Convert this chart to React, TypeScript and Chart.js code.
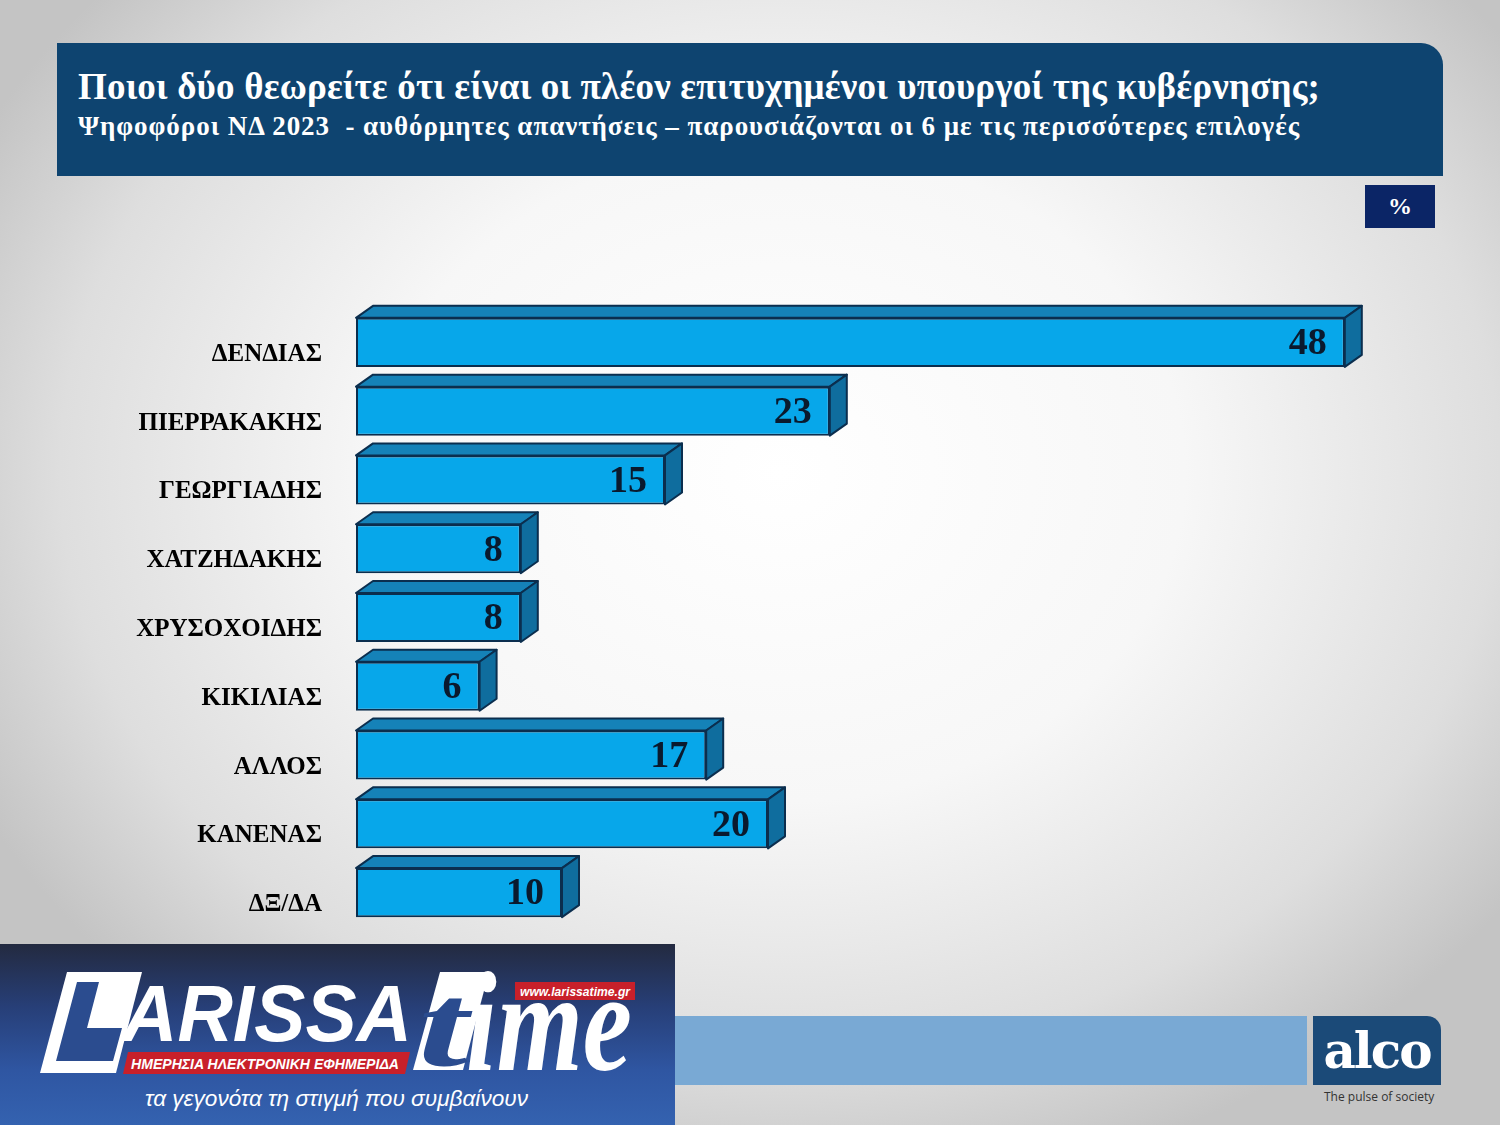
import React, { useEffect, useRef } from "react";
import { Chart, registerables } from "chart.js";

Chart.register(...registerables);

const categories = [
  "ΔΕΝΔΙΑΣ",
  "ΠΙΕΡΡΑΚΑΚΗΣ",
  "ΓΕΩΡΓΙΑΔΗΣ",
  "ΧΑΤΖΗΔΑΚΗΣ",
  "ΧΡΥΣΟΧΟΙΔΗΣ",
  "ΚΙΚΙΛΙΑΣ",
  "ΑΛΛΟΣ",
  "ΚΑΝΕΝΑΣ",
  "ΔΞ/ΔΑ",
];
const values = [48, 23, 15, 8, 8, 6, 17, 20, 10];

const TITLE = "Ποιοι δύο θεωρείτε ότι είναι οι πλέον επιτυχημένοι υπουργοί της κυβέρνησης;";
const SUBTITLE =
  "Ψηφοφόροι ΝΔ 2023  - αυθόρμητες απαντήσεις – παρουσιάζονται οι 6 με τις περισσότερες επιλογές";

const FRONT = "#07a7ea";
const TOPC = "#1582b8";
const SIDE = "#0f6d9e";
const EDGE = "#0b2e4e";

const bar3d = {
  id: "bar3d",
  afterDatasetsDraw(chart: any) {
    const ctx = chart.ctx;
    const meta = chart.getDatasetMeta(0);
    const dx = 17;
    const dy = 12;
    meta.data.forEach((bar: any, i: number) => {
      const { x, y, base, height } = bar.getProps(["x", "y", "base", "height"], true);
      const top = y - height / 2;
      const bottom = y + height / 2;
      ctx.save();
      ctx.lineWidth = 2;
      ctx.strokeStyle = EDGE;
      ctx.lineJoin = "round";
      ctx.beginPath();
      ctx.moveTo(base, top);
      ctx.lineTo(base + dx, top - dy);
      ctx.lineTo(x + dx, top - dy);
      ctx.lineTo(x, top);
      ctx.closePath();
      ctx.fillStyle = TOPC;
      ctx.fill();
      ctx.stroke();
      ctx.beginPath();
      ctx.moveTo(x, top);
      ctx.lineTo(x + dx, top - dy);
      ctx.lineTo(x + dx, bottom - dy);
      ctx.lineTo(x, bottom);
      ctx.closePath();
      ctx.fillStyle = SIDE;
      ctx.fill();
      ctx.stroke();
      ctx.font = "bold 38px 'Liberation Serif'";
      ctx.fillStyle = "#0a1a2e";
      ctx.textAlign = "right";
      ctx.textBaseline = "middle";
      ctx.fillText(String(values[i]), x - 18, y + 2);
      ctx.restore();
    });
  },
};

export default function App() {
  const ref = useRef<HTMLCanvasElement>(null);
  useEffect(() => {
    document.body.style.margin = "0";
    const chart = new Chart(ref.current!, {
      type: "bar",
      data: {
        labels: categories,
        datasets: [
          {
            data: values,
            backgroundColor: FRONT,
            borderColor: EDGE,
            borderWidth: 2,
            borderSkipped: false,
            barPercentage: 0.713,
            categoryPercentage: 1,
          },
        ],
      },
      options: {
        indexAxis: "y",
        animation: false,
        responsive: false,
        devicePixelRatio: 1,
        layout: { padding: { top: 28, bottom: 33, right: 14, left: 0 } },
        plugins: { legend: { display: false }, tooltip: { enabled: false } },
        scales: {
          x: { display: false, min: 0, max: 50 },
          y: {
            grid: { display: false, drawTicks: false },
            border: { display: false },
            ticks: {
              padding: 34,
              labelOffset: 12,
              color: "#000",
              font: { family: "'Liberation Serif'", weight: "bold", size: 25 },
            },
            afterFit: (s: any) => {
              s.width = 356;
              s.paddingTop = 0;
              s.paddingBottom = 0;
            },
          },
        },
      },
      plugins: [bar3d],
    } as any);
    return () => chart.destroy();
  }, []);

  const abs = (o: React.CSSProperties): React.CSSProperties => ({ position: "absolute", ...o });

  return (
    <div
      style={{
        position: "absolute",
        left: 0,
        top: 0,
        width: 1500,
        height: 1125,
        overflow: "hidden",
        background:
          "radial-gradient(ellipse 60% 65% at 52% 42%, #ffffff 0%, #f7f7f7 45%, #dedede 80%, #c4c4c4 100%)",
        fontFamily: "'Liberation Serif', serif",
      }}
    >
      {/* header */}
      <div
        style={abs({
          left: 57,
          top: 43,
          width: 1386,
          height: 133,
          background: "#0e4470",
          borderTopRightRadius: 22,
        })}
      />
      <div
        style={abs({
          left: 78,
          top: 65,
          color: "#fff",
          fontWeight: "bold",
          fontSize: 37,
          letterSpacing: 0.2,
          whiteSpace: "nowrap",
        })}
      >
        {TITLE}
      </div>
      <div
        style={abs({
          left: 78,
          top: 111,
          color: "#fff",
          fontWeight: "bold",
          fontSize: 27,
          letterSpacing: 0.95,
          whiteSpace: "pre",
        })}
      >
        {SUBTITLE}
      </div>
      <div
        style={abs({
          left: 1365,
          top: 185,
          width: 70,
          height: 43,
          background: "#0b2566",
          color: "#fff",
          fontWeight: "bold",
          fontSize: 24,
          display: "flex",
          alignItems: "center",
          justifyContent: "center",
        })}
      >
        %
      </div>

      <canvas ref={ref} width={1400} height={680} style={abs({ left: 0, top: 280 })} />

      {/* footer band */}
      <div style={abs({ left: 675, top: 1016, width: 632, height: 69, background: "#79a9d4" })} />
      <div
        style={abs({
          left: 1313,
          top: 1016,
          width: 128,
          height: 69,
          background: "#1b4a78",
          borderTopRightRadius: 14,
          color: "#fff",
          fontFamily: "'DejaVu Serif', serif",
          fontWeight: "bold",
          fontSize: 50,
          display: "flex",
          alignItems: "center",
          justifyContent: "center",
          letterSpacing: -2,
        })}
      >
        alco
      </div>
      <div
        style={abs({
          left: 1324,
          top: 1088,
          fontFamily: "'Open Sans', sans-serif",
          fontSize: 12,
          color: "#333",
        })}
      >
        The pulse of society
      </div>

      {/* larissa time logo */}
      <svg
        width={675}
        height={181}
        viewBox="0 944 675 181"
        style={abs({ left: 0, top: 944 })}
      >
        <defs>
          <linearGradient id="lt" x1="0" y1="0" x2="0" y2="1">
            <stop offset="0" stopColor="#232a40" />
            <stop offset="0.35" stopColor="#273f78" />
            <stop offset="0.7" stopColor="#2f56a2" />
            <stop offset="1" stopColor="#3462b0" />
          </linearGradient>
        </defs>
        <rect x={0} y={944} width={675} height={181} fill="url(#lt)" />
        {/* L block */}
        <polygon points="67,972 142,972 116,1073 40,1073" fill="#fff" />
        <polygon
          points="77,982 99,982 87,1028 122,1028 113,1061 56,1061"
          fill="#2b4c8f"
        />
        {/* ARISSA */}
        <text
          x={122}
          y={1041}
          fill="#fff"
          fontFamily="'Liberation Sans', sans-serif"
          fontWeight="bold"
          fontStyle="italic"
          fontSize={80}
          textLength={290}
          lengthAdjust="spacingAndGlyphs"
        >
          ARISSA
        </text>
        {/* t block */}
        <polygon points="440,972 489,972 463,1070 413,1070" fill="#fff" />
        <text
          x={418}
          y={1066}
          fill="#2b4c8f"
          fontFamily="'Liberation Serif', serif"
          fontWeight="bold"
          fontStyle="italic"
          fontSize={118}
          textLength={50}
          lengthAdjust="spacingAndGlyphs"
        >
          t
        </text>
        <text
          x={466}
          y={1070}
          fill="#fff"
          fontFamily="'Liberation Serif', serif"
          fontWeight="bold"
          fontStyle="italic"
          fontSize={141}
          textLength={166}
          lengthAdjust="spacingAndGlyphs"
        >
          ime
        </text>
        {/* red labels */}
        <rect x={515} y={982} width={120} height={18} fill="#c8202a" />
        <text
          x={520}
          y={996}
          fill="#fff"
          fontFamily="'Liberation Sans', sans-serif"
          fontWeight="bold"
          fontStyle="italic"
          fontSize={13}
          textLength={110}
          lengthAdjust="spacingAndGlyphs"
        >
          www.larissatime.gr
        </text>
        <polygon points="128,1052 410,1052 405,1074 123,1074" fill="#c8202a" />
        <text
          x={131}
          y={1069}
          fill="#fff"
          fontFamily="'Liberation Sans', sans-serif"
          fontWeight="bold"
          fontStyle="italic"
          fontSize={15}
          textLength={268}
          lengthAdjust="spacingAndGlyphs"
        >
          ΗΜΕΡΗΣΙΑ ΗΛΕΚΤΡΟΝΙΚΗ ΕΦΗΜΕΡΙΔΑ
        </text>
        <text
          x={145}
          y={1106}
          fill="#fff"
          fontFamily="'Liberation Sans', sans-serif"
          fontStyle="italic"
          fontSize={22}
          textLength={383}
          lengthAdjust="spacingAndGlyphs"
        >
          τα γεγονότα τη στιγμή που συμβαίνουν
        </text>
      </svg>
    </div>
  );
}
